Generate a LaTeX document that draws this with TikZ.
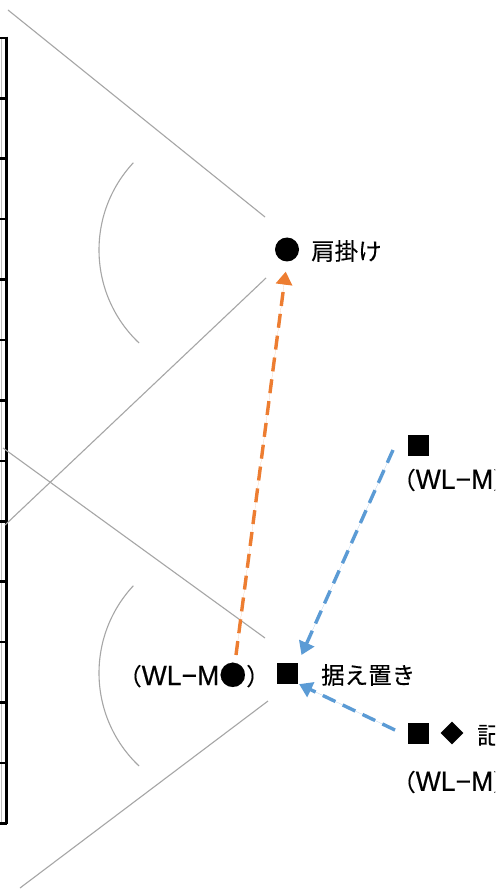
\documentclass[tikz,border=0pt]{standalone}
\usepackage{fontspec}
\newfontfamily\jp{Noto Sans CJK JP}[FakeBold=0.3]
\newfontfamily\lat{Liberation Sans}[FakeStretch=0.95,FakeBold=0.4]
\usetikzlibrary{arrows.meta,shapes.geometric}
\definecolor{oline}{HTML}{ED7D31}
\definecolor{bline}{HTML}{5B9BD5}
\newcommand{\wlm}{{\lat\fontsize{28}{30}\selectfont WL−M}}
\newcommand{\bigdot}{{\fontsize{27}{28}\selectfont ●}}
\tikzset{
  guide/.style={draw=black!35, line width=1.1pt},
  lab/.style={font=\jp\fontsize{23.5}{26}\selectfont, inner sep=0pt},
  sqmark/.style={fill=black, rectangle, minimum size=21pt, inner sep=0pt},
  dotmark/.style={fill=black, circle, minimum size=24pt, inner sep=0pt},
  dmmark/.style={fill=black, diamond, minimum width=23pt, minimum height=23pt, inner sep=0pt},
  dasharrow/.style={line width=3.4pt, dash pattern=on 14pt off 8pt, -{Triangle[length=13pt,width=16pt]}},
  ruler/.style={draw=black, line width=2.6pt},
}
\begin{document}
\begin{tikzpicture}[x=1pt,y=-1pt]
\clip (0,0) rectangle (495,890);
\fill[white] (0,0) rectangle (495,890);
% left ruler
\draw[draw=black!25, line width=1pt] (1.5,38) -- (1.5,823);
\draw[ruler] (6.5,36.7) -- (6.5,824.3);
\foreach \k in {0,...,13} {
  \draw[ruler] (0,{38+60.4*\k}) -- (6.5,{38+60.4*\k});
}
% upper fan
\draw[guide] (8,10) -- (265,217);
\draw[guide] (266,278) -- (5,525);
\draw[guide] (227,250) ++(133.4:128) arc[start angle=133.4, end angle=223, radius=128];
% lower fan
\draw[guide] (3,448) -- (265,638);
\draw[guide] (268,701) -- (20,888);
\draw[guide] (227,673) ++(133.4:128) arc[start angle=133.4, end angle=223, radius=128];
% marks and labels
\node[dotmark] (kata) at (287,249.5) {};
\node[lab, anchor=west] (katatxt) at (311,251) {肩掛け};
\node[sqmark] (sue) at (287.5,673) {};
\node[lab, anchor=west] (suetxt) at (321,675) {据え置き};
\node[lab, anchor=east] (wlm) at (270,675) {（\wlm\bigdot）};
\node[sqmark] (sqa) at (418,445) {};
\node[lab, anchor=west] (wla) at (392,480) {（\wlm ）};
\node[sqmark] (sqb) at (418,733) {};
\node[dmmark] (dmb) at (452,733) {};
\node[lab, anchor=west] (kitxt) at (477,735) {記録};
\node[lab, anchor=west] (wlb) at (392,782) {（\wlm ）};
% connectors
\coordinate (ostart) at (236,655);
\coordinate (b1start) at (393,450);
\coordinate (b2start) at (395,730);
\draw[dasharrow, draw=oline, fill=oline, shorten >=10pt] (ostart) -- (kata.south);
\draw[dasharrow, draw=bline, fill=bline, shorten >=8pt] (b1start) -- (sue.north east);
\draw[dasharrow, draw=bline, fill=bline, shorten >=1pt] (b2start) -- (sue.south east);
\end{tikzpicture}
\end{document}
